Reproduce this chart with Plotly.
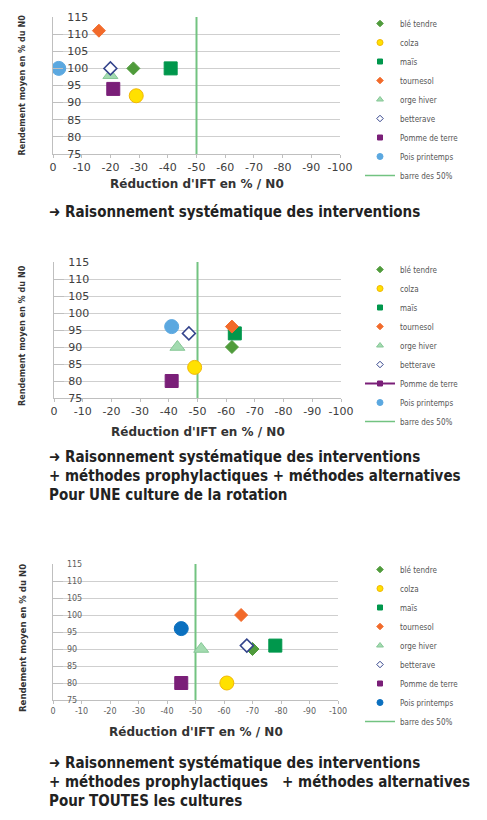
import plotly.graph_objects as go

W, H = 487, 820

cultures = ["blé tendre", "colza", "maïs", "tournesol", "orge hiver",
            "betterave", "Pomme de terre", "Pois printemps"]

# Chart 1 : raisonnement systématique des interventions
ift_1 = [-28, -29, -41, -16, -20, -20, -21, -2]
rdt_1 = [100, 92, 100, 111, 98, 100, 94, 100]
# Chart 2 : + prophylactiques + alternatives, pour UNE culture
ift_2 = [-62, -49, -63, -62, -43, -47, -41, -41]
rdt_2 = [90, 84, 94, 96, 90, 94, 80, 96]
# Chart 3 : + prophylactiques + alternatives, pour TOUTES les cultures
ift_3 = [-70, -61, -78, -66, -52, -68, -45, -45]
rdt_3 = [90, 80, 91, 100, 90, 91, 80, 96]

barre_name = "barre des 50%"
barre_x = [-50, -50]
barre_y = [75, 115]

x_ticks = [0, -10, -20, -30, -40, -50, -60, -70, -80, -90, -100]
x_ticktext = [str(v) for v in x_ticks]
y_ticks = [75, 80, 85, 90, 95, 100, 105, 110, 115]
y_ticktext = ["\u00a0" + str(v) for v in y_ticks]

x_title = "Réduction d'IFT en % / N0"
y_title = "Rendement moyen en % du N0"

captions = [
    ["➜ Raisonnement systématique des interventions"],
    ["➜ Raisonnement systématique des interventions",
     "+ méthodes prophylactiques + méthodes alternatives",
     "Pour UNE culture de la rotation"],
    ["➜ Raisonnement systématique des interventions",
     "+ méthodes prophylactiques   + méthodes alternatives",
     "Pour TOUTES les cultures"],
]

# styles
symbols = ["diamond", "circle", "square", "diamond", "triangle-up",
           "diamond", "square", "circle"]
sizes = [10, 14, 13, 10, 13, 10, 13, 14]
fills = ["#4f9b3b", "#ffe100", "#00974c", "#f26a2a", "#a3dbb0",
         "#ffffff", "#7a1f78", "#5ba8e0"]
lines = ["#4f9b3b", "#f2b705", "#00974c", "#f26a2a", "#86c796",
         "#34448c", "#7a1f78", "#5ba8e0"]
leg_sizes = [5, 6, 5, 5, 6, 5, 5, 6]
barre_color = "#72c381"

fig = go.Figure()

datasets = [(ift_1, rdt_1), (ift_2, rdt_2), (ift_3, rdt_3)]
# plot area pixel boxes: (left, right, top, bottom)
boxes = [(53, 340, 17, 154), (54, 341, 262, 398), (53, 338, 564, 700)]
leg_tops = [9, 255, 555]
caption_y0 = [212, 457, 763]
xtitle_y = [184, 432, 732]
tick_sizes = [11, 11, 8]
tick_colors = ["#404040", "#404040", "#606060"]

fam = "DejaVu Sans"
cond = "DejaVu Sans Condensed, DejaVu Sans"

annotations = []
for k, (xs, ys) in enumerate(datasets):
    xa = "x" if k == 0 else f"x{k+1}"
    ya = "y" if k == 0 else f"y{k+1}"
    lg = "legend" if k == 0 else f"legend{k+1}"
    fills_k = list(fills)
    lines_k = list(lines)
    if k == 2:
        fills_k[7] = "#0b70bf"
        lines_k[7] = "#0b70bf"

    fig.add_trace(go.Scatter(x=barre_x, y=barre_y, mode="lines",
                             line=dict(color=barre_color, width=2),
                             xaxis=xa, yaxis=ya, showlegend=False,
                             hoverinfo="skip"))
    for i, name in enumerate(cultures):
        fig.add_trace(go.Scatter(
            x=[xs[i]], y=[ys[i]], mode="markers", name=name,
            marker=dict(symbol=symbols[i], size=sizes[i], color=fills_k[i],
                        line=dict(color=lines_k[i], width=1.5 if i == 5 else 1)),
            xaxis=xa, yaxis=ya, showlegend=False))
    # legend entries
    for i, name in enumerate(cultures):
        mode = "lines+markers" if (k == 1 and i == 6) else "markers"
        fig.add_trace(go.Scatter(
            x=[None], y=[None], mode=mode, name=name,
            line=dict(color=lines_k[i], width=2),
            marker=dict(symbol=symbols[i], size=leg_sizes[i], color=fills_k[i],
                        line=dict(color=lines_k[i], width=1)),
            xaxis=xa, yaxis=ya, legend=lg, showlegend=True))
    fig.add_trace(go.Scatter(x=[None], y=[None], mode="lines", name=barre_name,
                             line=dict(color=barre_color, width=1.5),
                             xaxis=xa, yaxis=ya, legend=lg, showlegend=True))

    l, r, t, b = boxes[k]
    xdom = [l / W, r / W]
    ydom = [1 - b / H, 1 - t / H]
    fig.layout[("xaxis" if k == 0 else f"xaxis{k+1}")] = dict(
        domain=xdom, range=[0, -100], anchor=ya,
        tickmode="array", tickvals=x_ticks, ticktext=x_ticktext,
        showline=True, linecolor="#bfbfbf", linewidth=1,
        ticks="outside", ticklen=3, tickcolor="#bfbfbf",
        showgrid=False, zeroline=False,
        tickfont=dict(family=fam, size=tick_sizes[k], color=tick_colors[k]),
        fixedrange=True)
    fig.layout[("yaxis" if k == 0 else f"yaxis{k+1}")] = dict(
        domain=ydom, range=[75, 115], anchor=xa,
        tickmode="array", tickvals=y_ticks, ticktext=y_ticktext,
        showline=True, linecolor="#bfbfbf", linewidth=1,
        showgrid=True, gridcolor="#cfcfcf", gridwidth=1,
        ticks="inside", ticklen=10, tickcolor="#bfbfbf",
        ticklabelposition="inside", ticklabeloverflow="allow",
        zeroline=False,
        tickfont=dict(family=fam, size=tick_sizes[k], color=tick_colors[k]),
        fixedrange=True)

    leg = dict(x=360 / W, xanchor="left", y=1 - leg_tops[k] / H,
               yanchor="top", bgcolor="rgba(0,0,0,0)",
               font=dict(family=cond, size=8, color="#555555"),
               itemwidth=30, tracegroupgap=0)
    fig.layout[lg] = leg

    annotations.append(dict(
        text=f"<b>{x_title}</b>", xref="paper", yref="paper",
        x=(l + r) / 2 / W, y=1 - xtitle_y[k] / H, xanchor="center",
        yanchor="middle", showarrow=False,
        font=dict(family=fam, size=12, color="#333333")))
    annotations.append(dict(
        text=f"<b>{y_title}</b>", xref="paper", yref="paper",
        x=22 / W, y=1 - ((t + b) / 2 + (0 if k == 0 else 6)) / H,
        xanchor="center", yanchor="middle",
        textangle=-90, showarrow=False,
        font=dict(family=cond, size=9 if k < 2 else 9.5, color="#333333")))
    for j, line in enumerate(captions[k]):
        annotations.append(dict(
            text=f"<b>{line}</b>", xref="paper", yref="paper",
            x=47 / W, y=1 - (caption_y0[k] + 19 * j) / H,
            xanchor="left", yanchor="middle", showarrow=False,
            font=dict(family=cond, size=15, color="#222222")))

fig.update_layout(
    width=W, height=H, margin=dict(l=0, r=0, t=0, b=0, autoexpand=False),
    paper_bgcolor="white", plot_bgcolor="white",
    annotations=annotations, hovermode=False)

fig.write_html("out.html",
               config={"displayModeBar": False},
               post_script="document.body.style.margin='0';"
                           "document.body.style.overflow='hidden';")
